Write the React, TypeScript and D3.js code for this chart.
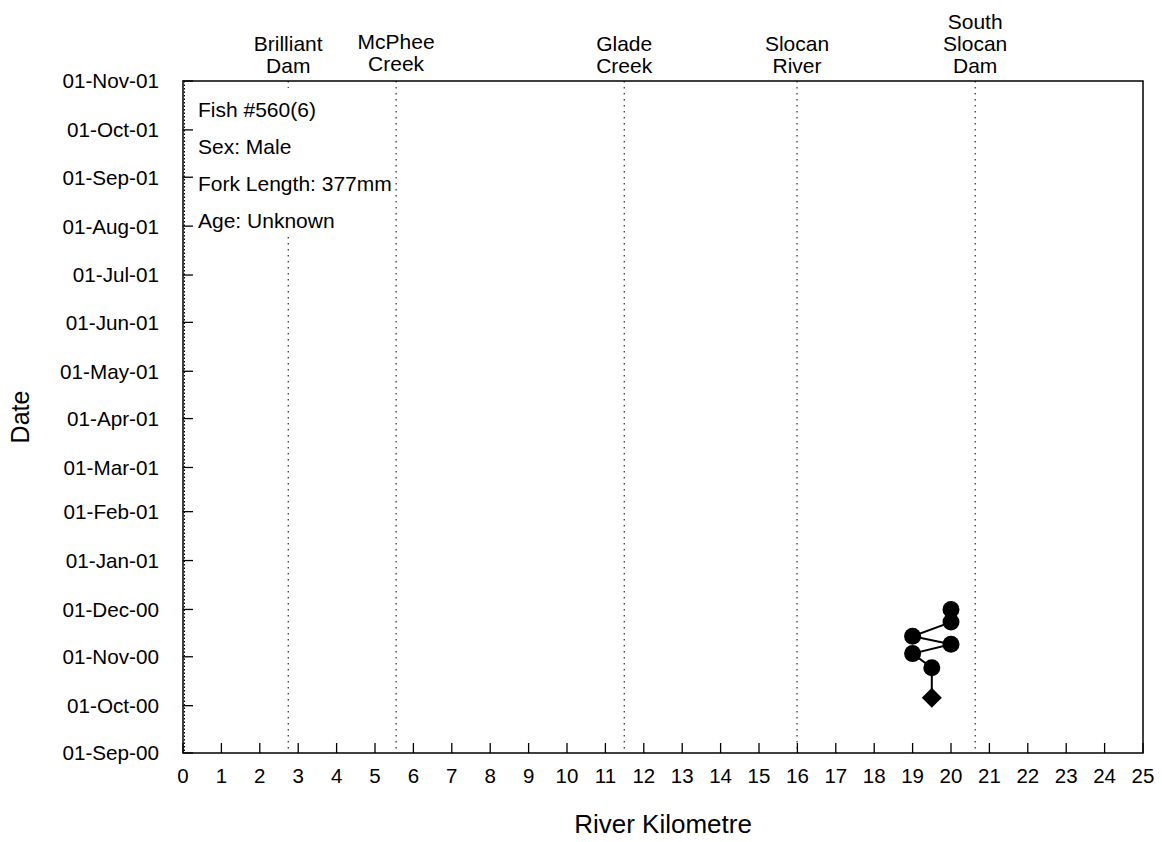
import React from "react";
import * as d3 from "d3";

// ---- data ----
const fishInfo = ["Fish #560(6)", "Sex: Male", "Fork Length: 377mm", "Age: Unknown"];
const siteLabels = [
  ["Brilliant", "Dam"],
  ["McPhee", "Creek"],
  ["Glade", "Creek"],
  ["Slocan", "River"],
  ["South", "Slocan", "Dam"],
];
const siteKm = [2.74, 5.55, 11.49, 15.99, 20.63];
const obsDates = ["2000-10-06", "2000-10-25", "2000-11-03", "2000-11-09", "2000-11-14", "2000-11-23", "2000-12-01"];
const obsKm = [19.5, 19.5, 19, 20, 19, 20, 20];
const obsMarker = ["diamond", "circle", "circle", "circle", "circle", "circle", "circle"];
const xTicks = [0, 1, 2, 3, 4, 5, 6, 7, 8, 9, 10, 11, 12, 13, 14, 15, 16, 17, 18, 19, 20, 21, 22, 23, 24, 25];
const dateStart = "2000-09-01";
const dateEnd = "2001-11-01";

const W = 1162;
const H = 842;
const M = { left: 183, right: 1143, top: 81, bottom: 753 };
const FONT = "'Liberation Sans', Arial, sans-serif";

export default function App() {
  const parse = d3.timeParse("%Y-%m-%d");
  const x = d3.scaleLinear().domain([0, 25]).range([M.left, M.right]);
  const y = d3.scaleTime().domain([parse(dateStart)!, parse(dateEnd)!]).range([M.bottom, M.top]);
  const yTicks = d3.timeMonth.range(parse(dateStart)!, d3.timeDay.offset(parse(dateEnd)!, 1));
  const fmt = d3.timeFormat("%d-%b-%y");

  const pts = obsDates.map((d, i) => ({ x: x(obsKm[i]), y: y(parse(d)!), m: obsMarker[i] }));
  const line = d3.line<{ x: number; y: number }>().x((d) => d.x).y((d) => d.y);
  const dh = 10;
  const diamond = `M0,${-dh}L${dh},0L0,${dh}L${-dh},0Z`;

  return (
    <svg width={W} height={H} style={{ position: "absolute", left: 0, top: 0, background: "#fff" }} fontFamily={FONT}>
      <rect x={0} y={0} width={W} height={H} fill="#fff" />
      {/* site reference lines */}
      {siteKm.map((k, i) => (
        <line key={"s" + i} x1={x(k)} x2={x(k)} y1={M.top} y2={M.bottom} stroke="#000" strokeWidth={1} strokeDasharray="1.5 4.5" />
      ))}
      <line x1={x(0) + 1.5} x2={x(0) + 1.5} y1={M.top} y2={M.bottom} stroke="#000" strokeWidth={1} strokeDasharray="1.5 2" />
      {/* site labels */}
      {siteLabels.map((lines, i) => (
        <text key={"l" + i} x={x(siteKm[i])} textAnchor="middle" fontSize={21} fill="#000">
          {lines.map((t, j) => (
            <tspan key={j} x={x(siteKm[i])} y={73 - (lines.length - 1 - j) * 22 - (i === 1 ? 2 : 0)}>
              {t}
            </tspan>
          ))}
        </text>
      ))}
      {/* annotation box */}
      <rect x={195} y={88} width={199} height={146} fill="#fff" />
      {fishInfo.map((t, i) => (
        <text key={"f" + i} x={198} y={117 + i * 37} fontSize={21} fill="#000">
          {t}
        </text>
      ))}
      {/* frame */}
      <rect x={M.left} y={M.top} width={M.right - M.left} height={M.bottom - M.top} fill="none" stroke="#000" strokeWidth={1.5} />
      {/* x ticks */}
      {xTicks.map((t) => (
        <g key={"x" + t}>
          <line x1={x(t)} x2={x(t)} y1={M.bottom} y2={M.bottom - 10} stroke="#000" strokeWidth={1.3} />
          <text x={x(t)} y={783} textAnchor="middle" fontSize={20.5} fill="#000">
            {t}
          </text>
        </g>
      ))}
      {/* y ticks */}
      {yTicks.map((t, i) => (
        <g key={"y" + i}>
          <line x1={M.left} x2={M.left + 10} y1={y(t)} y2={y(t)} stroke="#000" strokeWidth={1.3} />
          <text x={159} y={y(t)} dy="0.36em" textAnchor="end" fontSize={20.7} fill="#000">
            {fmt(t)}
          </text>
        </g>
      ))}
      {/* axis titles */}
      <text x={(M.left + M.right) / 2} y={833} textAnchor="middle" fontSize={26} fill="#000">
        River Kilometre
      </text>
      <text transform={`translate(29, ${(M.top + M.bottom) / 2}) rotate(-90)`} textAnchor="middle" fontSize={25} fill="#000">
        Date
      </text>
      {/* track */}
      <path d={line(pts) || ""} fill="none" stroke="#000" strokeWidth={2} />
      {pts.map((p, i) =>
        p.m === "diamond" ? (
          <path key={"p" + i} d={diamond} transform={`translate(${p.x},${p.y})`} fill="#000" />
        ) : (
          <circle key={"p" + i} cx={p.x} cy={p.y} r={8.5} fill="#000" />
        )
      )}
    </svg>
  );
}
